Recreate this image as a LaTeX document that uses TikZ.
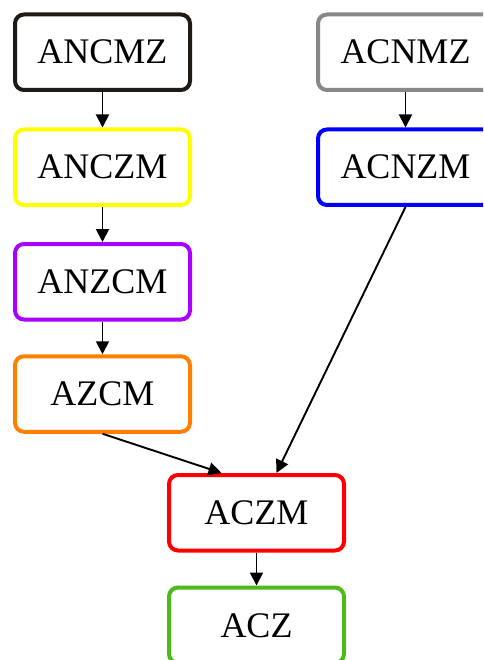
\documentclass[tikz,border=0pt]{standalone}
\usepackage{fontspec}
\setmainfont{Liberation Serif}
\usetikzlibrary{arrows.meta}

\definecolor{cdark}{RGB}{30,26,22}
\definecolor{cgray}{RGB}{136,136,136}
\definecolor{cyellow}{RGB}{255,255,0}
\definecolor{cblue}{RGB}{0,0,255}
\definecolor{cpurple}{RGB}{170,0,255}
\definecolor{corange}{RGB}{255,127,0}
\definecolor{cred}{RGB}{255,0,0}
\definecolor{cgreen}{RGB}{76,187,23}

\tikzset{
  state/.style={draw=#1, line width=4pt, rounded corners=9pt,
    minimum width=175pt, minimum height=75.5pt, inner sep=0pt,
    font=\fontsize{36}{40}\selectfont, text=black},
  edge/.style={line width=1.9pt, black,
    -{Triangle[length=13pt,width=13pt]}}
}

\begin{document}
\begin{tikzpicture}[x=1pt,y=-1pt]
  \useasboundingbox (0,0) rectangle (483,660);
  \clip (0,0) rectangle (483,660);

  % left chain
  \node[state=cdark]   (ancmz) at (102.5,52.25)  {ANCMZ};
  \node[state=cyellow] (anczm) at (102.5,167.25) {ANCZM};
  \node[state=cpurple] (anzcm) at (102.5,281.75) {ANZCM};
  \node[state=corange] (azcm)  at (102.5,394)    {AZCM};

  % right chain
  \node[state=cgray]   (acnmz) at (405.5,52.25)  {ACNMZ};
  \node[state=cblue]   (acnzm) at (405.5,167.25) {ACNZM};

  % merged tail
  \node[state=cred]    (aczm)  at (256.5,512.75) {ACZM};
  \node[state=cgreen]  (acz)   at (256.5,625.25) {ACZ};

  \draw[edge] (ancmz.south) -- (anczm.north);
  \draw[edge] (anczm.south) -- (anzcm.north);
  \draw[edge] (anzcm.south) -- (azcm.north);
  \draw[edge] (acnmz.south) -- (acnzm.north);
  \draw[edge] (azcm.south)  -- ([xshift=-35pt]aczm.north);
  \draw[edge] (acnzm.south) -- ([xshift=20pt]aczm.north);
  \draw[edge] (aczm.south)  -- (acz.north);
\end{tikzpicture}
\end{document}
